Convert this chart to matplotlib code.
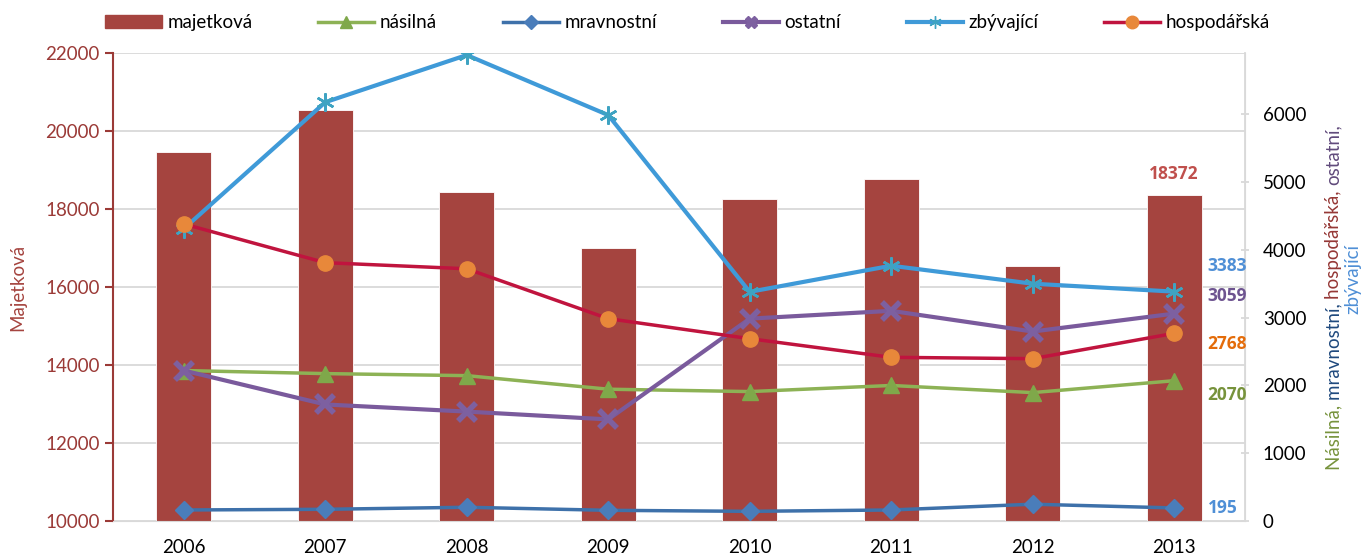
import matplotlib.pyplot as plt
from matplotlib.patches import Patch
from matplotlib.lines import Line2D

plt.rcParams['font.family'] = ['Lato', 'DejaVu Sans']

roky = ['2006', '2007', '2008', '2009', '2010', '2011', '2012', '2013']
majetkova = [19450, 20550, 18450, 16990, 18250, 18760, 16550, 18372]
nasilna = [2220, 2175, 2145, 1945, 1910, 2000, 1895, 2070]
mravnostni = [165, 175, 205, 160, 145, 165, 250, 195]
ostatni = [2220, 1720, 1615, 1500, 2985, 3100, 2795, 3059]
zbyvajici = [4310, 6175, 6870, 5985, 3380, 3765, 3500, 3383]
hospodarska = [4380, 3810, 3720, 2985, 2690, 2415, 2395, 2768]

x = list(range(len(roky)))

fig = plt.figure(figsize=(13.62, 5.58), dpi=100)
ax = fig.add_axes([0.083, 0.066, 0.831, 0.839])
ax2 = ax.twinx()

# sloupce - majetkova
cerv = '#A5443F'
ax.bar(x, majetkova, width=0.39, color=cerv, zorder=2, edgecolor='white', linewidth=0.6)
ax.set_ylim(10000, 22000)
ax.set_xlim(-0.5, 7.5)
ax.set_yticks(range(10000, 22001, 2000))
ax.yaxis.grid(True, color='#D9D9D9', linewidth=1.3, zorder=0)
ax.set_axisbelow(True)
ax.set_xticks(x)
ax.set_xticklabels(roky, fontsize=13.5)
ax.tick_params(axis='x', length=0, pad=13)
ax.tick_params(axis='y', colors='#9B3A37', labelsize=13.5, length=6, width=1.5, direction='out')
ax.spines['left'].set_color('#9B3A37')
ax.spines['left'].set_linewidth(1.5)
ax.spines['top'].set_visible(False)
ax.spines['bottom'].set_color('#D9D9D9')
ax.spines['right'].set_color('#D9D9D9')
ax.set_ylabel('Majetková', color='#A5443F', fontsize=13.5, labelpad=14)

# cary na prave ose
ax2.plot(x, nasilna, color='#8DB255', lw=2.5, marker='^', ms=11, mfc='#7FA84A', mec='#7FA84A', zorder=3)
ax2.plot(x, mravnostni, color='#3E71AA', lw=2.5, marker='D', ms=9, mfc='#4A7DBA', mec='#4A7DBA', zorder=3)
ax2.plot(x, ostatni, color='#7A5A9C', lw=3, marker='x', ms=13, mew=4, mec='#7D60A0', zorder=3)
ax2.plot(x, zbyvajici, color='#3F9AD8', lw=3, marker=(6, 2, 0), ms=13, mec='#3EA3C2', mew=1.8, zorder=3)
ax2.plot(x, hospodarska, color='#C0143E', lw=2.5, marker='o', ms=11, mfc='#E8883A', mec='#E8883A', zorder=3)
ax2.set_ylim(0, 6900)
ax2.set_yticks(range(0, 7000, 1000))
ax2.tick_params(axis='y', colors='#D9D9D9', labelcolor='black', labelsize=13.5, length=6, width=1.3, direction='inout', pad=10)
for s in ['left', 'top', 'bottom']:
    ax2.spines[s].set_visible(False)
ax2.spines['right'].set_color('#D9D9D9')
ax2.spines['right'].set_linewidth(1.3)

# popisky 2013 (tucne)
tucne = ['Open Sans', 'DejaVu Sans']
ax.text(7, majetkova[7] + 300, str(majetkova[7]), color='#C0504D', fontsize=12.5, fontweight='bold',
        family=tucne, ha='center', va='bottom')
popisky = [(zbyvajici[7], '#4F8FD6', 75), (ostatni[7], '#6E5490', 50), (hospodarska[7], '#E46C0A', -30),
           (nasilna[7], '#77933C', -40), (mravnostni[7], '#4F8FD6', 0)]
for v, c, dy in popisky:
    ax2.annotate(str(v), (7, v), xytext=(24, dy * 0.25), textcoords='offset points', color=c,
                 fontsize=12.5, fontweight='bold', family=tucne, va='center', ha='left')

# legenda
handles = [Patch(color=cerv),
           Line2D([], [], color='#8DB255', lw=2.5, marker='^', ms=9, mfc='#7FA84A', mec='#7FA84A'),
           Line2D([], [], color='#3E71AA', lw=2.5, marker='D', ms=7, mfc='#4A7DBA', mec='#4A7DBA'),
           Line2D([], [], color='#7A5A9C', lw=3, marker='X', ms=9, mfc='#7D60A0', mec='#7D60A0'),
           Line2D([], [], color='#3F9AD8', lw=3, marker=(6, 2, 0), ms=9, mec='#3EA3C2'),
           Line2D([], [], color='#C0143E', lw=2.5, marker='o', ms=9, mfc='#E8883A', mec='#E8883A')]
labels = ['majetková', 'násilná', 'mravnostní', 'ostatní', 'zbývající', 'hospodářská']
fig.legend(handles, labels, loc='upper center', bbox_to_anchor=(0.505, 1.005), ncol=6, frameon=False,
           fontsize=13.5, handlelength=3.0, columnspacing=3.5, handletextpad=0.3)

# barevny popisek prave osy
fig.canvas.draw()
r = fig.canvas.get_renderer()
casti = [('Násilná, ', '#77933C'), ('mravnostní, ', '#1F497D'), ('hospodářská, ', '#953735'), ('ostatní,', '#604A7B')]
y0 = 88 / 558
for t, c in casti:
    tx = fig.text(0.979, y0, t, rotation=90, color=c, fontsize=13.5, ha='center', va='bottom')
    bb = tx.get_window_extent(r)
    y0 += bb.height / fig.bbox.height
fig.text(0.993, 0.5, 'zbývající', rotation=90, color='#4F8FD6', fontsize=13.5, ha='center', va='center')

fig.savefig('out.png', dpi=100)
